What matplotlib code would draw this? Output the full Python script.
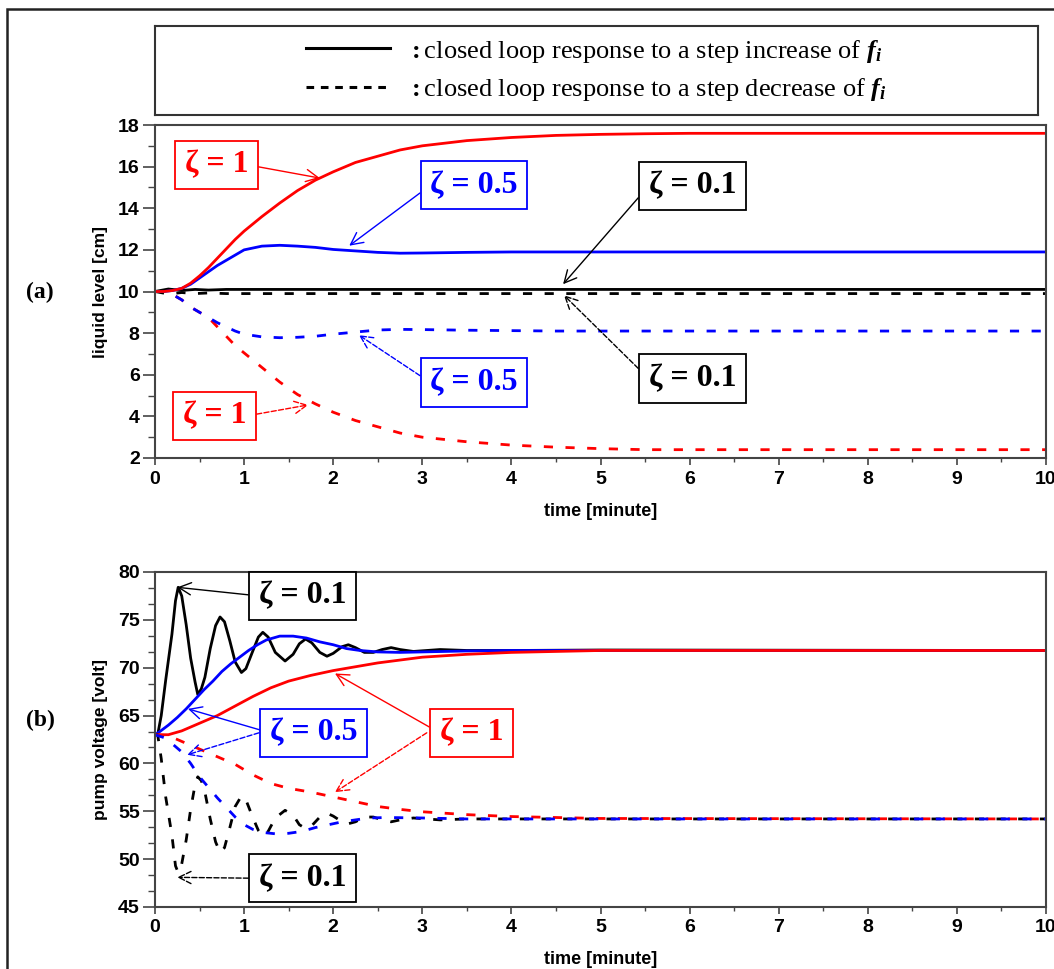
import matplotlib.pyplot as plt
from matplotlib.ticker import MultipleLocator
from matplotlib.patches import Rectangle
from matplotlib.lines import Line2D

plt.rcParams['font.family'] = ['Liberation Sans', 'DejaVu Sans']
plt.rcParams['font.weight'] = 'bold'
plt.rcParams['mathtext.fontset'] = 'custom'
plt.rcParams['mathtext.rm'] = 'Liberation Serif'
plt.rcParams['mathtext.it'] = 'Liberation Serif:italic'
plt.rcParams['mathtext.bf'] = 'Liberation Serif:bold'
plt.rcParams['mathtext.bfit'] = 'Liberation Serif:bold:italic'

# ---- (a) liquid level [cm] ----
t_lev = [0, 0.1, 0.2, 0.3, 0.4, 0.5, 0.6, 0.7, 0.8, 0.9, 1.0, 1.2, 1.4, 1.6, 1.8,
         2.0, 2.25, 2.5, 2.75, 3.0, 3.5, 4.0, 4.5, 5.0, 5.5, 6.0, 7, 8, 9, 10]
lev_z1_up = [10.0, 10.0, 10.05, 10.15, 10.4, 10.75, 11.15, 11.6, 12.05, 12.5, 12.9,
             13.6, 14.25, 14.85, 15.35, 15.75, 16.2, 16.5, 16.8, 17.0, 17.25, 17.4,
             17.5, 17.55, 17.58, 17.6, 17.6, 17.6, 17.6, 17.6]
lev_z05_up = [10.0, 10.0, 10.05, 10.15, 10.35, 10.65, 10.95, 11.25, 11.5, 11.75, 12.0,
              12.18, 12.22, 12.18, 12.12, 12.02, 11.95, 11.88, 11.84, 11.85, 11.88, 11.9,
              11.9, 11.9, 11.9, 11.9, 11.9, 11.9, 11.9, 11.9]
lev_z1_down = [10.0, 10.0, 9.85, 9.6, 9.25, 9.0, 8.75, 8.3, 7.85, 7.4, 7.05, 6.35, 5.65,
               5.05, 4.6, 4.2, 3.8, 3.5, 3.2, 3.0, 2.78, 2.62, 2.52, 2.45, 2.4, 2.4,
               2.4, 2.4, 2.4, 2.4]
lev_z05_down = [10.0, 10.0, 9.85, 9.6, 9.25, 9.0, 8.75, 8.5, 8.3, 8.1, 7.95, 7.82, 7.78,
                7.8, 7.85, 7.95, 8.05, 8.15, 8.18, 8.17, 8.14, 8.12, 8.1, 8.1, 8.1, 8.1,
                8.1, 8.1, 8.1, 8.1]
t_lev01 = [0, 0.15, 0.3, 0.45, 0.6, 0.8, 10]
lev_z01_up = [10.0, 10.12, 10.05, 10.1, 10.07, 10.1, 10.1]
lev_z01_down = [10.0, 9.88, 9.95, 9.9, 9.93, 9.9, 9.9]

# ---- (b) pump voltage [volt] ----
t_v01 = [0, 0.03, 0.07, 0.12, 0.19, 0.23, 0.26, 0.3, 0.35, 0.4, 0.45, 0.48, 0.52, 0.56,
         0.62, 0.68, 0.73, 0.78, 0.84, 0.9, 0.97, 1.02, 1.1, 1.16, 1.21, 1.27, 1.35,
         1.46, 1.55, 1.62, 1.69, 1.76, 1.85, 1.93, 2.0, 2.1, 2.17, 2.25, 2.35, 2.45,
         2.55, 2.65, 2.75, 2.9, 3.05, 3.2, 3.5, 4.0, 5.0, 10]
v_z01_up = [63, 63, 65, 68.7, 73.5, 77, 78.4, 77.5, 74.5, 71, 68.5, 67.2, 67.8, 69,
            72, 74.4, 75.3, 74.8, 72.8, 70.6, 69.5, 69.9, 71.8, 73.2, 73.7, 73.2, 71.6,
            70.7, 71.4, 72.5, 73.0, 72.6, 71.6, 71.2, 71.5, 72.2, 72.4, 72.1, 71.6, 71.6,
            71.9, 72.1, 71.9, 71.7, 71.8, 71.9, 71.8, 71.8, 71.85, 71.8]
v_z01_down = [63, 63, 60.5, 56.5, 52.5, 49.3, 48.6, 49.5, 52.0, 55.2, 57.8, 58.6, 58.2,
              57.0, 54.2, 51.8, 50.7, 51.2, 53.3, 55.5, 56.6, 56.2, 54.3, 53.0, 52.4,
              52.9, 54.3, 55.1, 54.6, 53.6, 53.2, 53.5, 54.4, 54.8, 54.5, 53.9, 53.7,
              53.9, 54.4, 54.4, 54.1, 53.9, 54.1, 54.3, 54.2, 54.1, 54.2, 54.2, 54.2, 54.2]

t_v05 = [0, 0.05, 0.15, 0.25, 0.35, 0.45, 0.55, 0.65, 0.75, 0.85, 0.95, 1.05, 1.15,
         1.25, 1.4, 1.55, 1.7, 1.85, 2.0, 2.15, 2.3, 2.5, 2.75, 3.0, 3.5, 4.0, 10]
v_z05_up = [63, 63.3, 64.0, 64.8, 65.7, 66.7, 67.7, 68.6, 69.6, 70.4, 71.1, 71.8, 72.4,
            72.9, 73.3, 73.3, 73.1, 72.7, 72.4, 72.0, 71.8, 71.65, 71.6, 71.65, 71.75,
            71.8, 71.8]
t_v05d = [0, 0.1, 0.2, 0.3, 0.4, 0.5, 0.6, 0.7, 0.8, 0.9, 1.0, 1.1, 1.2, 1.35, 1.5,
          1.65, 1.8, 1.95, 2.1, 2.25, 2.4, 2.6, 3.0, 3.5, 10]
v_z05_down = [63, 62.7, 62.0, 61.2, 60.0, 58.6, 57.5, 56.4, 55.4, 54.4, 53.6, 53.1, 52.8,
              52.65, 52.7, 52.9, 53.3, 53.6, 53.9, 54.1, 54.3, 54.35, 54.3, 54.2, 54.2]

t_v1 = [0, 0.15, 0.3, 0.5, 0.7, 0.9, 1.1, 1.3, 1.5, 1.75, 2.0, 2.25, 2.5, 2.75, 3.0,
        3.5, 4.0, 4.5, 5.0, 10]
v_z1_up = [63, 63.0, 63.4, 64.2, 65.0, 66.0, 67.0, 67.9, 68.6, 69.2, 69.7, 70.1, 70.5,
           70.8, 71.1, 71.4, 71.6, 71.7, 71.8, 71.8]
v_z1_down = [63, 62.9, 62.3, 61.5, 60.7, 59.9, 58.8, 57.9, 57.4, 57.0, 56.5, 56.0, 55.5,
             55.2, 54.95, 54.65, 54.45, 54.35, 54.25, 54.2]

W, H = 1054, 969


def px_box(left, top, right, bottom):
    return [left / W, 1 - bottom / H, (right - left) / W, (bottom - top) / H]


fig = plt.figure(figsize=(W / 100, H / 100), dpi=100)
ax1 = fig.add_axes(px_box(155, 125, 1046, 458))
ax2 = fig.add_axes(px_box(155, 572, 1046, 907))

lw = 2.0
dash = (0, (3.3, 4.5))

ax1.plot(t_lev01, lev_z01_down, color='black', lw=lw, ls=dash)
ax1.plot(t_lev, lev_z1_down, color='red', lw=lw, ls=dash)
ax1.plot(t_lev, lev_z05_down, color='blue', lw=lw, ls=dash)
ax1.plot(t_lev01, lev_z01_up, color='black', lw=lw)
ax1.plot(t_lev, lev_z05_up, color='blue', lw=lw)
ax1.plot(t_lev, lev_z1_up, color='red', lw=lw)

ax2.plot(t_v01, v_z01_up, color='black', lw=lw)
ax2.plot(t_v05, v_z05_up, color='blue', lw=lw)
ax2.plot(t_v1, v_z1_up, color='red', lw=lw)
ax2.plot(t_v01, v_z01_down, color='black', lw=lw, ls=dash)
ax2.plot(t_v1, v_z1_down, color='red', lw=lw, ls=dash)
ax2.plot(t_v05d, v_z05_down, color='blue', lw=lw, ls=dash)


def style(ax, ylim, ymaj, ymin, ylabel, xlab_y):
    ax.set_xlim(0, 10)
    ax.set_ylim(*ylim)
    ax.xaxis.set_major_locator(MultipleLocator(1))
    ax.xaxis.set_minor_locator(MultipleLocator(0.5))
    ax.yaxis.set_major_locator(MultipleLocator(ymaj))
    ax.yaxis.set_minor_locator(MultipleLocator(ymin))
    for s in ax.spines.values():
        s.set_color('#444444')
        s.set_linewidth(1.5)
    ax.tick_params(axis='y', which='major', direction='out', length=9, width=1.2,
                   color='#444444', pad=2, labelsize=14)
    ax.tick_params(axis='y', which='minor', direction='out', length=5, width=1.0,
                   color='#444444')
    ax.tick_params(axis='x', which='major', direction='out', length=5, width=1.2,
                   color='#444444', pad=4, labelsize=14)
    ax.tick_params(axis='x', which='minor', direction='out', length=3, width=1.0,
                   color='#444444')
    ax.set_xlabel('time [minute]', fontsize=13, fontweight='bold')
    ax.xaxis.set_label_coords(0.5, xlab_y)
    ax.set_ylabel(ylabel, fontsize=12.5, fontweight='bold')
    ax.yaxis.set_label_coords(-0.053, 0.5)


style(ax1, (2, 18), 2, 1, 'liquid level [cm]', -0.135)
style(ax2, (45, 80), 5, 5 / 3, 'pump voltage [volt]', -0.13)


def tag(ax, text, center, tip, color, dashed=False, side=0):
    ax.annotate(text, xy=tip, xytext=center, ha='center', va='center',
                fontsize=23, family='Liberation Serif', fontweight='bold', color=color,
                bbox=dict(boxstyle='square,pad=0.3', fc='white', ec=color, lw=1.3),
                arrowprops=dict(arrowstyle='->', color=color, lw=1.0,
                                ls='--' if dashed else '-', relpos=(side, 0.5),
                                shrinkA=0, shrinkB=0, mutation_scale=22))


def arrow(ax, start, tip, color, dashed=False):
    ax.annotate('', xy=tip, xytext=start,
                arrowprops=dict(arrowstyle='->', color=color, lw=1.0,
                                ls='--' if dashed else '-', shrinkA=0, shrinkB=0,
                                mutation_scale=22))


# (a) labels
tag(ax1, 'ζ = 1', (0.69, 16.08), (1.85, 15.45), 'red', side=1)
tag(ax1, 'ζ = 0.5', (3.58, 15.1), (2.18, 12.2), 'blue')
tag(ax1, 'ζ = 0.1', (6.03, 15.07), (4.58, 10.35), 'black')
tag(ax1, 'ζ = 1', (0.67, 4.02), (1.72, 4.55), 'red', dashed=True, side=1)
tag(ax1, 'ζ = 0.5', (3.58, 5.63), (2.29, 7.9), 'blue', dashed=True)
tag(ax1, 'ζ = 0.1', (6.03, 5.82), (4.59, 9.82), 'black', dashed=True)

# (b) labels
tag(ax2, 'ζ = 0.1', (1.655, 77.5), (0.25, 78.4), 'black')
tag(ax2, 'ζ = 0.5', (1.78, 63.2), (0.37, 65.7), 'blue')
arrow(ax2, (1.167, 63.2), (0.36, 60.9), 'blue', dashed=True)
tag(ax2, 'ζ = 1', (3.55, 63.2), (2.02, 69.4), 'red')
arrow(ax2, (3.05, 63.2), (2.02, 57.0), 'red', dashed=True)
tag(ax2, 'ζ = 0.1', (1.655, 48.0), (0.25, 48.1), 'black', dashed=True)

fig.text(40 / W, 1 - 292 / H, '(a)', family='Liberation Serif', fontweight='bold',
         fontsize=17, ha='center', va='center')
fig.text(40 / W, 1 - 720 / H, '(b)', family='Liberation Serif', fontweight='bold',
         fontsize=17, ha='center', va='center')

# legend box
lax = fig.add_axes(px_box(155, 26, 1038, 115))
lax.set_xticks([])
lax.set_yticks([])
for s in lax.spines.values():
    s.set_color('#333333')
    s.set_linewidth(1.5)
handles = [Line2D([], [], color='black', lw=2.2),
           Line2D([], [], color='black', lw=2.2, ls=(0, (2.5, 2.2)))]
labels = [r'$\mathbf{:}$closed loop response to a step increase of $\mathbfit{f}_{\mathbfit{i}}$',
          r'$\mathbf{:}$closed loop response to a step decrease of $\mathbfit{f}_{\mathbfit{i}}$']
leg = lax.legend(handles, labels, loc='center', frameon=False, handlelength=3.2,
                 handletextpad=0.65, labelspacing=0.45,
                 prop={'family': 'Liberation Serif', 'weight': 'normal', 'size': 19})

# outer frame
fig.add_artist(Rectangle((7 / W, -0.05), 1.1, 1 - 9 / H + 0.05, transform=fig.transFigure,
                         fill=False, ec='#222222', lw=1.8, clip_on=False))

fig.savefig('out.png', dpi=100)
